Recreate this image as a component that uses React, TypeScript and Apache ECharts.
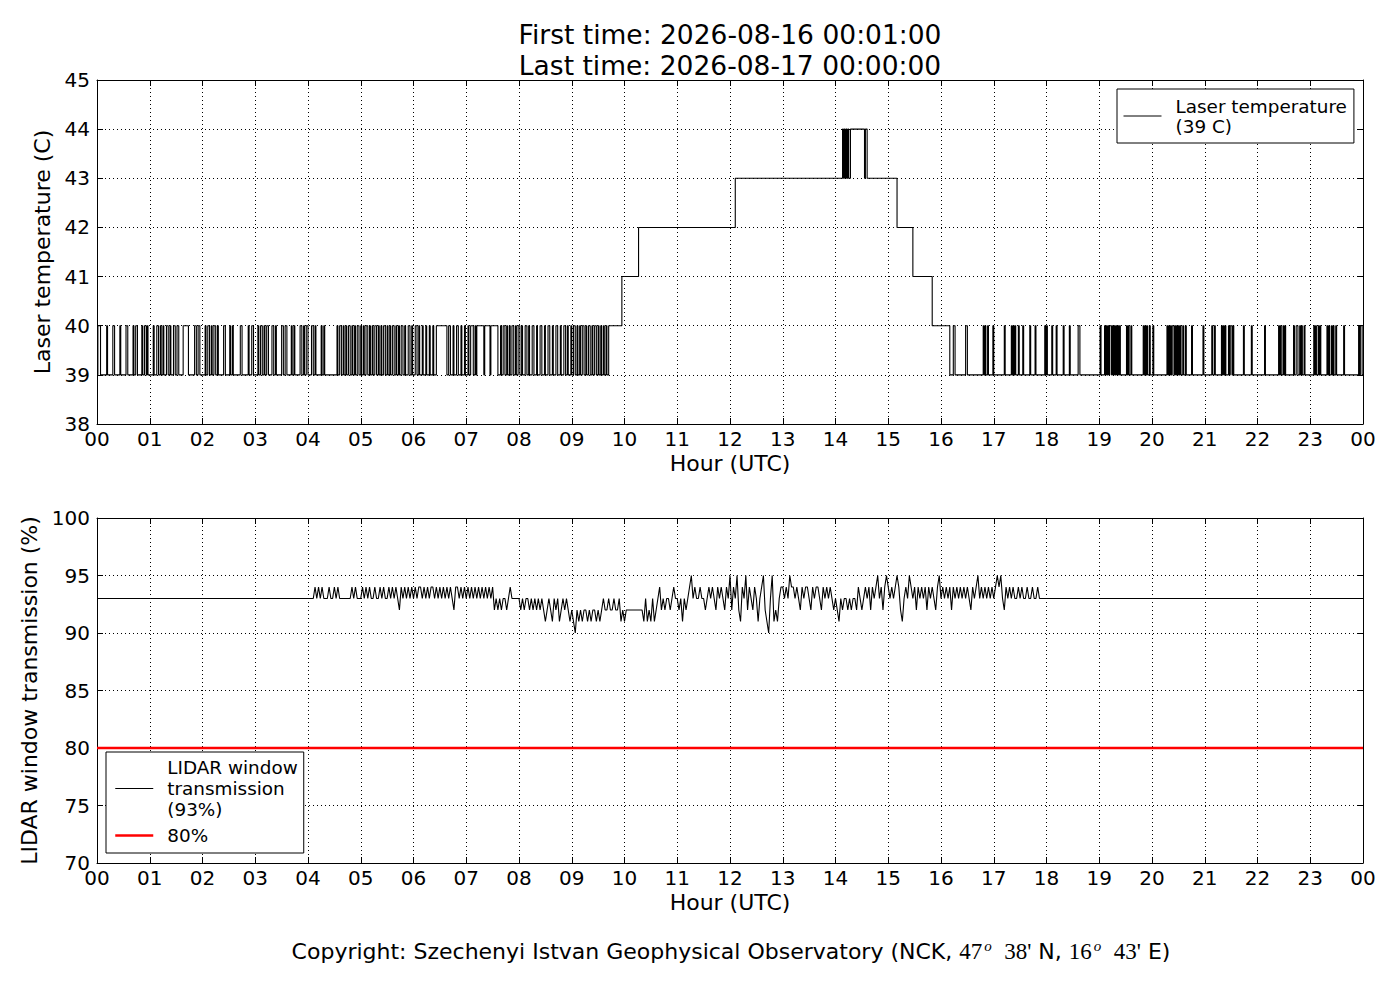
import React, { useEffect, useRef } from "react";
import * as echarts from "echarts";

// ---------- texts ----------
const FIRST_TIME = "2026-08-16 00:01:00";
const LAST_TIME = "2026-08-17 00:00:00";
const X_NAME = "Hour (UTC)";
const TEMP_AXIS_NAME = "Laser temperature (C)";
const TRANS_AXIS_NAME = "LIDAR window transmission (%)";
const TEMP_NAME = "Laser temperature\n(39 C)";
const TRANS_NAME = "LIDAR window\ntransmission\n(93%)";
const LIMIT_NAME = "80%";

// ---------- axes ----------
const HOUR_LABELS = [
  "00", "01", "02", "03", "04", "05", "06", "07", "08", "09", "10", "11",
  "12", "13", "14", "15", "16", "17", "18", "19", "20", "21", "22", "23", "00",
];
const TEMP_MIN = 38;
const TEMP_MAX = 45;
const TRANS_MIN = 70;
const TRANS_MAX = 100;

// ---------- laser temperature (minutes of day) ----------
const TEMP_BASE = 39;
// [start minute, duration in minutes] where the temperature reads 40 C (morning)
const TEMP_PULSES_AM: [number, number][] = [
  [1, 3], [11, 1], [18, 2], [26, 1], [33, 2], [41, 1], [44, 2], [51, 1], [54, 2], [57, 1],
  [64, 1], [68, 2], [72, 1], [75, 1], [79, 2], [83, 1], [87, 2], [91, 2], [98, 6], [111, 2],
  [115, 2], [123, 1], [126, 2], [130, 1], [133, 2], [137, 1], [144, 2], [151, 1], [154, 1],
  [163, 2], [172, 1], [176, 2], [183, 1], [186, 2], [190, 1], [193, 2], [199, 2], [203, 1],
  [210, 2], [214, 2], [221, 1], [224, 1], [231, 2], [235, 1], [238, 2], [244, 2], [248, 1],
  [255, 1], [258, 1], [273, 1], [276, 2], [280, 1], [283, 1], [286, 2], [290, 1], [293, 1],
  [296, 2], [300, 1], [303, 1], [306, 2], [310, 1], [313, 1], [316, 2], [320, 1], [323, 1],
  [326, 2], [330, 1], [333, 1], [336, 2], [340, 1], [343, 1], [346, 2], [350, 1], [354, 2],
  [358, 1], [362, 2], [366, 1], [370, 1], [374, 1], [378, 1], [382, 1], [386, 12], [400, 2],
  [405, 1], [409, 2], [414, 1], [418, 1], [422, 1], [425, 3], [430, 1], [432, 8], [441, 6],
  [448, 8], [459, 1], [462, 2], [466, 1], [469, 1], [472, 2], [476, 1], [479, 2], [483, 1],
  [487, 2], [491, 1], [495, 2], [500, 1], [504, 2], [509, 1], [513, 2], [518, 1], [522, 2],
  [527, 1], [531, 2], [535, 1], [539, 1], [542, 2], [546, 1], [549, 1], [552, 2], [556, 1],
  [559, 2], [563, 1], [566, 2], [570, 1], [573, 1], [576, 1], [579, 1],
];
// [minute, new temperature] for the warm-up period around noon
const TEMP_STEPS: [number, number][] = [
  [582, 40], [597, 41], [616, 42], [726, 43], [848, 44], [849, 43], [850, 44], [851, 43],
  [852, 44], [853, 43], [854, 44], [855, 43], [857, 44], [873, 43], [874, 44], [876, 43],
  [910, 42], [928, 41], [950, 40], [970, 39],
];
// [start minute, duration in minutes] where the temperature reads 40 C (afternoon)
const TEMP_PULSES_PM: [number, number][] = [
  [974, 2], [988, 2], [1008, 1], [1010, 1], [1013, 1], [1019, 1], [1032, 1], [1040, 1],
  [1042, 1], [1044, 1], [1048, 1], [1053, 1], [1061, 1], [1067, 1], [1078, 1], [1080, 1],
  [1086, 1], [1091, 1], [1099, 1], [1106, 1], [1116, 2], [1141, 1], [1146, 1], [1148, 1],
  [1150, 1], [1152, 2], [1155, 1], [1157, 1], [1159, 1], [1161, 1], [1163, 1], [1171, 1],
  [1173, 1], [1176, 1], [1190, 1], [1192, 1], [1194, 1], [1197, 1], [1201, 1], [1217, 1],
  [1219, 1], [1221, 1], [1223, 2], [1226, 1], [1228, 1], [1230, 1], [1232, 1], [1235, 1],
  [1238, 1], [1245, 1], [1258, 1], [1268, 1], [1271, 1], [1279, 1], [1281, 1], [1283, 1],
  [1287, 1], [1289, 2], [1292, 1], [1304, 1], [1313, 1], [1328, 1], [1344, 1], [1346, 1],
  [1349, 1], [1351, 1], [1361, 1], [1364, 2], [1368, 1], [1370, 1], [1373, 1], [1384, 1],
  [1386, 1], [1389, 1], [1391, 1], [1399, 1], [1401, 1], [1404, 1], [1406, 1], [1409, 1],
  [1418, 1], [1435, 1], [1437, 2],
];

// ---------- LIDAR window transmission (%), one value every 2 minutes ----------
const TRANS_BASE = 93;
const TRANS_STEP_MIN = 2;
const TRANS_04 = [93, 93, 93, 93, 94, 93, 94, 93, 94, 93, 93, 93, 94, 93, 93, 94, 93, 94, 93, 93, 93, 93, 93, 93, 93, 94, 93, 94, 93, 93];
const TRANS_05 = [93, 94, 93, 94, 93, 94, 93, 93, 94, 93, 93, 94, 93, 94, 93, 93, 94, 93, 94, 93, 94, 93, 92, 94, 93, 94, 93, 94, 93, 94];
const TRANS_06 = [93, 94, 93, 94, 94, 93, 94, 93, 94, 93, 94, 94, 93, 94, 93, 94, 93, 94, 93, 94, 93, 94, 93, 92, 94, 94, 93, 94, 93, 94];
const TRANS_07 = [93, 94, 93, 94, 93, 94, 93, 94, 93, 94, 93, 94, 93, 94, 93, 94, 92, 93, 92, 93, 92, 93, 93, 92, 93, 94, 93, 93, 93, 93];
const TRANS_08 = [93, 92, 93, 92, 93, 93, 92, 93, 92, 93, 92, 93, 92, 93, 92, 91, 92, 93, 92, 91, 93, 92, 93, 91, 92, 93, 92, 93, 92, 91];
const TRANS_09 = [92, 91, 90, 92, 91, 92, 91, 92, 92, 91, 92, 91, 92, 92, 91, 92, 91, 92, 93, 92, 92, 93, 92, 92, 93, 92, 92, 93, 91, 92];
const TRANS_10 = [91, 92, 92, 92, 92, 92, 92, 92, 92, 92, 92, 91, 93, 91, 92, 91, 93, 91, 92, 93, 94, 92, 93, 92, 93, 93, 92, 93, 94, 93];
const TRANS_11 = [93, 92, 93, 91, 93, 92, 93, 94, 95, 93, 94, 93, 93, 94, 93, 93, 92, 93, 94, 93, 94, 93, 92, 94, 93, 94, 93, 92, 94, 93];
const TRANS_12 = [95, 92, 94, 93, 95, 92, 91, 94, 93, 95, 92, 94, 93, 92, 94, 93, 91, 93, 94, 95, 92, 91, 90, 93, 95, 91, 92, 91, 93, 94];
const TRANS_13 = [94, 93, 94, 93, 95, 94, 94, 93, 94, 93, 92, 94, 93, 94, 94, 93, 92, 94, 93, 94, 94, 93, 92, 94, 93, 94, 93, 94, 93, 92];
const TRANS_14 = [93, 92, 91, 93, 92, 93, 93, 92, 93, 92, 93, 93, 92, 94, 93, 92, 93, 94, 93, 94, 92, 94, 93, 94, 95, 93, 94, 92, 94, 95];
const TRANS_15 = [94, 93, 94, 93, 94, 95, 94, 92, 91, 93, 94, 93, 95, 94, 93, 94, 92, 94, 93, 94, 93, 94, 92, 94, 93, 94, 93, 92, 94, 95];
const TRANS_16 = [93, 94, 93, 94, 93, 94, 92, 94, 93, 94, 93, 94, 93, 94, 93, 94, 93, 92, 94, 93, 94, 95, 93, 94, 93, 94, 93, 94, 93, 94];
const TRANS_17 = [93, 94, 95, 94, 95, 93, 92, 94, 93, 94, 93, 94, 93, 93, 94, 93, 94, 93, 93, 94, 93, 93, 94, 93, 93, 94, 93];
const TRANS_HOURS: [number, number[]][] = [
  [4, TRANS_04], [5, TRANS_05], [6, TRANS_06], [7, TRANS_07], [8, TRANS_08], [9, TRANS_09],
  [10, TRANS_10], [11, TRANS_11], [12, TRANS_12], [13, TRANS_13], [14, TRANS_14],
  [15, TRANS_15], [16, TRANS_16], [17, TRANS_17],
];
const LIMIT = 80;

const FONT = "'DejaVu Sans', sans-serif";
const SERIF = "'Liberation Serif', 'DejaVu Serif', serif";

function buildTemperature(): [number, number][] {
  const changes: [number, number][] = [];
  TEMP_PULSES_AM.forEach(([s, d]) => {
    changes.push([s, 40]);
    changes.push([s + d, TEMP_BASE]);
  });
  TEMP_STEPS.forEach((c) => changes.push(c));
  TEMP_PULSES_PM.forEach(([s, d]) => {
    changes.push([s, 40]);
    changes.push([s + d, TEMP_BASE]);
  });
  const pts: [number, number][] = [[0, TEMP_BASE]];
  let cur = TEMP_BASE;
  changes.forEach(([t, v]) => {
    pts.push([t / 60, cur]);
    pts.push([t / 60, v]);
    cur = v;
  });
  pts.push([24, cur]);
  return pts;
}

function buildTransmission(): [number, number][] {
  const pts: [number, number][] = [[0, TRANS_BASE]];
  TRANS_HOURS.forEach(([h, vals]) => {
    vals.forEach((v, i) => pts.push([h + (i * TRANS_STEP_MIN) / 60, v]));
  });
  pts.push([24, TRANS_BASE]);
  return pts;
}

const axisLine = { show: true, onZero: false, lineStyle: { color: "#000", width: 1 } };
const axisTick = { show: true, inside: true, length: 6, lineStyle: { color: "#000", width: 1 } };
const gridLine = { show: true, lineStyle: { color: "#000", width: 1, type: [1, 3] } };
const labelStyle = { color: "#000", fontSize: 20, fontFamily: FONT };

function xAxes(gridIndex: number) {
  return [
    {
      type: "value", gridIndex, min: 0, max: 24, interval: 1, position: "bottom",
      axisLine, axisTick,
      axisLabel: { ...labelStyle, margin: 5, formatter: (v: number) => HOUR_LABELS[Math.round(v)] },
      splitLine: gridLine,
      name: X_NAME, nameLocation: "middle", nameGap: 28,
      nameTextStyle: { color: "#000", fontSize: 22, fontFamily: FONT },
    },
    {
      type: "value", gridIndex, min: 0, max: 24, interval: 1, position: "top",
      axisLine, axisTick, axisLabel: { show: false }, splitLine: { show: false },
    },
  ];
}

function yAxes(gridIndex: number, min: number, max: number, interval: number, name: string, nameGap: number) {
  return [
    {
      type: "value", gridIndex, min, max, interval, position: "left",
      axisLine, axisTick,
      axisLabel: { ...labelStyle, margin: 7, showMinLabel: true, showMaxLabel: true },
      splitLine: gridLine,
      name, nameLocation: "middle", nameGap, nameRotate: 90,
      nameTextStyle: { color: "#000", fontSize: 22, fontFamily: FONT },
    },
    {
      type: "value", gridIndex, min, max, interval, position: "right",
      axisLine, axisTick, axisLabel: { show: false }, splitLine: { show: false },
    },
  ];
}

const legendBase = {
  orient: "vertical",
  itemWidth: 38,
  itemHeight: 2,
  itemGap: 5,
  borderColor: "#000",
  borderWidth: 1,
  borderRadius: 0,
  backgroundColor: "#fff",
  selectedMode: false,
  itemStyle: { opacity: 0 },
  lineStyle: { width: 1 },
};

function buildOption() {
  return {
    animation: false,
    backgroundColor: "#fff",
    title: {
      text: `First time: ${FIRST_TIME}\nLast time: ${LAST_TIME}`,
      left: 730,
      top: 19,
      padding: 0,
      textAlign: "center",
      textStyle: { fontFamily: FONT, fontSize: 26.5, fontWeight: "normal", color: "#000", lineHeight: 31 },
    },
    grid: [
      { left: 97, top: 80, width: 1266, height: 344, containLabel: false },
      { left: 97, top: 518, width: 1266, height: 345, containLabel: false },
    ],
    xAxis: [...xAxes(0), ...xAxes(1)],
    yAxis: [
      ...yAxes(0, TEMP_MIN, TEMP_MAX, 1, TEMP_AXIS_NAME, 40),
      ...yAxes(1, TRANS_MIN, TRANS_MAX, 5, TRANS_AXIS_NAME, 52),
    ],
    legend: [
      {
        ...legendBase,
        data: [TEMP_NAME],
        left: 1117,
        top: 89,
        padding: [7, 7, 7, 6],
        textStyle: { fontFamily: FONT, fontSize: 18.4, lineHeight: 20, color: "#000", padding: [0, 0, 0, 9] },
      },
      {
        ...legendBase,
        data: [
          { name: TRANS_NAME, lineStyle: { width: 1 } },
          { name: LIMIT_NAME, lineStyle: { width: 2.5 } },
        ],
        left: 106,
        top: 752,
        padding: [5, 6, 7, 8],
        textStyle: { fontFamily: FONT, fontSize: 18.4, lineHeight: 21, color: "#000", padding: [0, 0, 0, 9] },
      },
    ],
    series: [
      {
        name: TEMP_NAME, type: "line", xAxisIndex: 0, yAxisIndex: 0,
        data: buildTemperature(), symbol: "none", showSymbol: false, silent: true,
        color: "#000", lineStyle: { color: "#000", width: 1.1 },
      },
      {
        name: TRANS_NAME, type: "line", xAxisIndex: 2, yAxisIndex: 2,
        data: buildTransmission(), symbol: "none", showSymbol: false, silent: true,
        color: "#000", lineStyle: { color: "#000", width: 1.1 },
      },
      {
        name: LIMIT_NAME, type: "line", xAxisIndex: 2, yAxisIndex: 2,
        data: [[0, LIMIT], [24, LIMIT]], symbol: "none", showSymbol: false, silent: true,
        color: "#ff0000", lineStyle: { color: "#ff0000", width: 2.5 },
      },
    ],
    graphic: [
      {
        type: "text",
        x: 731,
        y: 951,
        silent: true,
        style: {
          text: "{t|Copyright: Szechenyi Istvan Geophysical Observatory (NCK, }{m|47}{s|o}{m|  38'}{t| N, }{m|16}{s|o}{m|  43'}{t| E)}",
          align: "center",
          verticalAlign: "middle",
          textAlign: "center",
          textVerticalAlign: "middle",
          fill: "#000",
          rich: {
            t: { fontFamily: FONT, fontSize: 22, fill: "#000", color: "#000", lineHeight: 26 },
            m: { fontFamily: SERIF, fontSize: 23, fill: "#000", color: "#000", lineHeight: 26 },
            s: { fontFamily: SERIF, fontSize: 15, fontStyle: "italic", fill: "#000", color: "#000", lineHeight: 15, verticalAlign: "top", padding: [0, 1, 0, 2] },
          },
        },
      },
    ],
  };
}

export default function App() {
  const ref = useRef<HTMLDivElement>(null);
  useEffect(() => {
    document.body.style.margin = "0";
    const chart = echarts.init(ref.current as HTMLDivElement, null, { renderer: "svg" });
    chart.setOption(buildOption() as any);
    return () => chart.dispose();
  }, []);
  return <div ref={ref} style={{ width: 1400, height: 1000, background: "#fff" }} />;
}
